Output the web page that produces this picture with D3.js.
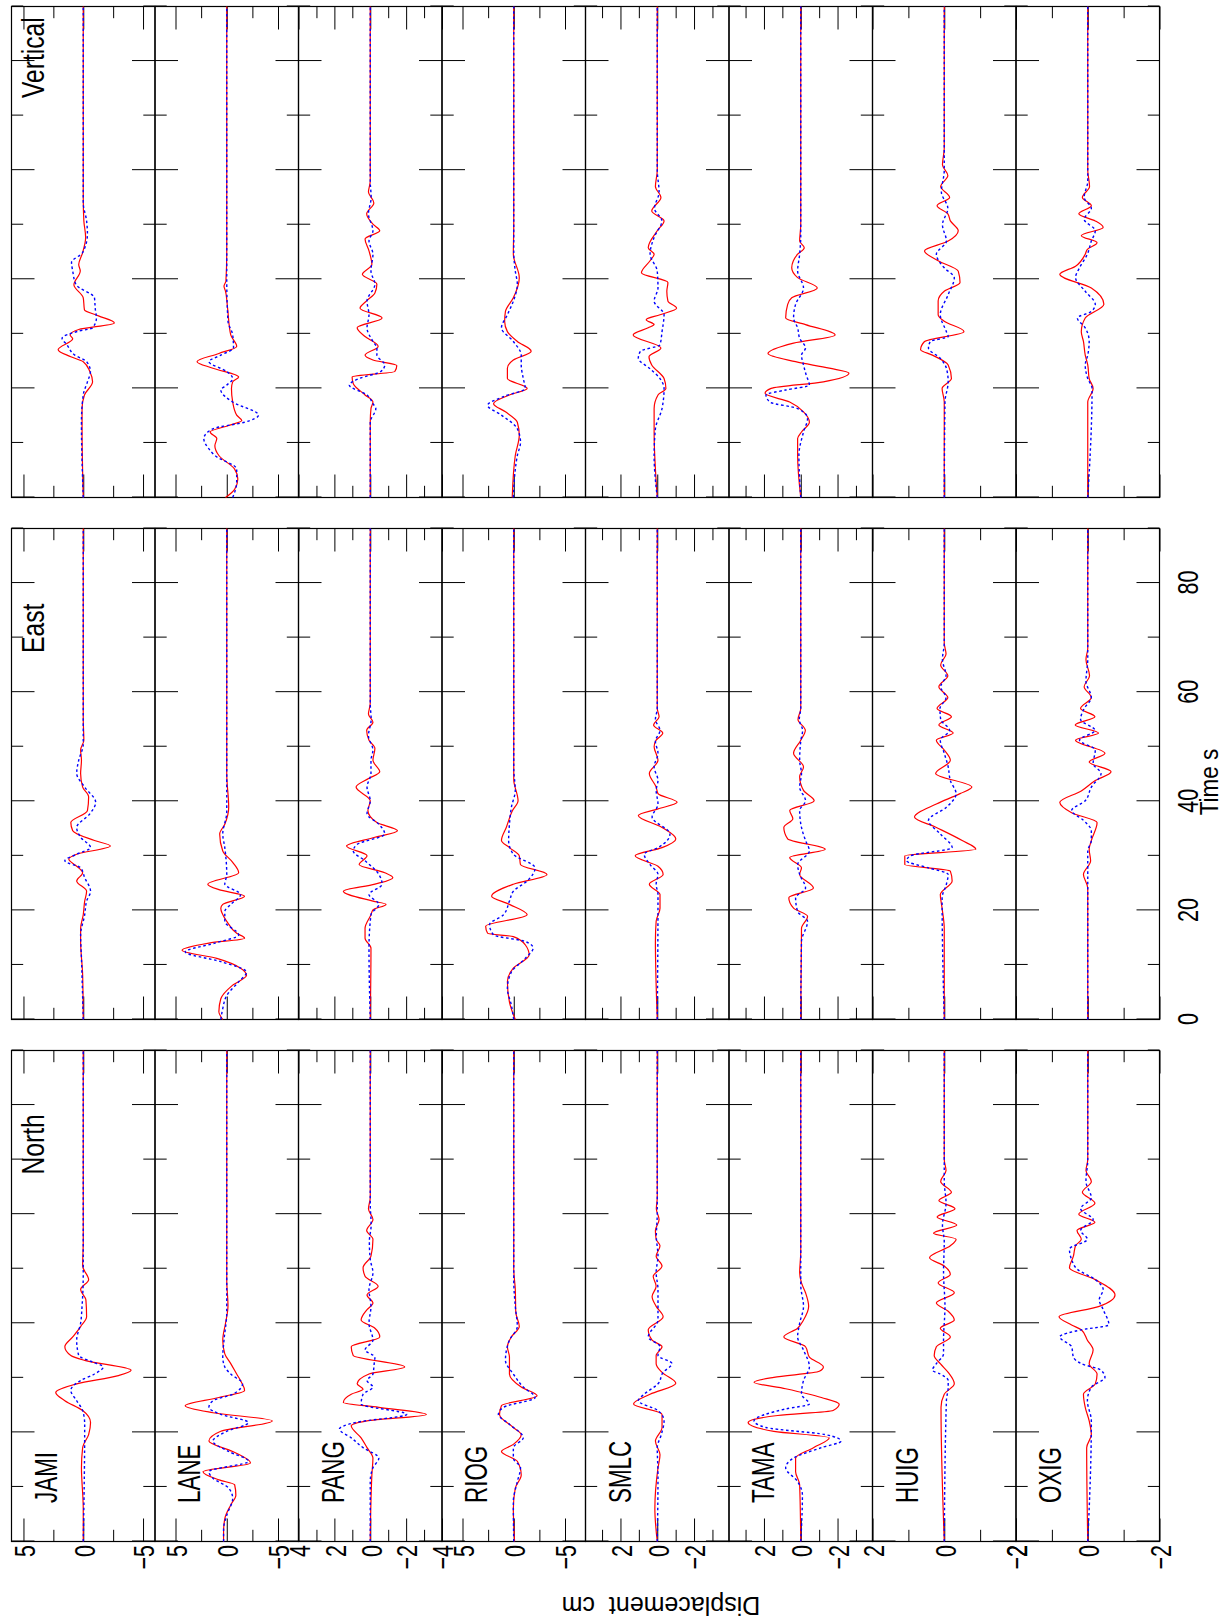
<!DOCTYPE html>
<html><head><meta charset="utf-8">
<script src="https://cdn.jsdelivr.net/npm/d3@7/dist/d3.min.js"></script>
<style>
body{margin:0;background:#fff}
svg{display:block}
text{font-family:"Liberation Sans",Arial,sans-serif;fill:#000}
</style>
</head><body>
<svg id="chart" width="1223" height="1620"></svg>
<script>
// ---------- categories / tick labels ----------
const stations = ["JAMI","LANE","PANG","RIOG","SMLC","TAMA","HUIG","OXIG"];
const components = ["North","East","Vertical"];
const ampRange = [6, 7, 4, 7, 3.9, 3.9, 2, 2];
const ampMajor = [[-5,0,5],[-5,0,5],[-4,-2,0,2,4],[-5,0,5],[-2,0,2],[-2,0,2],[-2,0,2],[-2,0,2]];
const ampMinor = [[-2.5,2.5],[-2.5,2.5],[-3,-1,1,3],[-2.5,2.5],[-3,-1,1,3],[-3,-1,1,3],[-1,1],[-1,1]];
const timeDomain = [0, 90];
const timeMajor = [0, 20, 40, 60, 80];
const timeMinor = [10, 30, 50, 70, 90];
const yLabel = "Displacement  cm";
const xLabel = "Time s";

// ---------- series: [time s, displacement cm] ----------
const northSolid = {
  JAMI:[[0,0],[6,0],[13.5,0.15],[17.2,0.05],[19.6,-0.45],[21.8,-0.61],[24,0.05],[25.8,1.54],[27.3,2.3],[28.9,0.55],[30.4,-2.93],[31.4,-4.0],[33.2,-0.12],[34.1,1.04],[35.7,1.54],[37.5,0.88],[39.4,0.22],[41.2,-0.28],[44.3,-0.22],[46.2,0.22],[48,-0.45],[50.5,0.05],[55,0],[90,0]],
  LANE:[[0,0.31],[1.7,0.31],[4.2,0.19],[6.7,-0.39],[8.5,-0.89],[10.4,-0.77],[11.3,0.77],[12.8,2.32],[14.4,-2.32],[16.5,-0.58],[18.4,1.74],[20.2,0.58],[22.1,-4.44],[23.6,1.35],[24.9,4.05],[26.4,0.77],[27.7,-1.74],[29.2,-1.43],[30.7,-0.97],[32.6,-0.39],[34.4,0.19],[36.9,0.39],[40,0.12],[43.1,-0.12],[48,0],[90,0]],
  PANG:[[0,0],[12.2,-0.09],[15.3,-0.15],[17.2,0.18],[19,0.51],[21.2,1.06],[22.1,0.18],[23.3,-3.13],[24.6,-0.48],[25.5,1.5],[27,1.06],[27.9,0.4],[28.9,0.73],[30.7,0.07],[32,-1.92],[34.1,0.95],[35.7,1.06],[37.5,-0.53],[39.1,-0.26],[40.6,0.51],[42.5,0.18],[43.7,-0.15],[45.2,0.18],[46.8,-0.44],[48.6,0.29],[50.2,0.4],[52.3,-0.04],[55.4,-0.15],[57,0.2],[59,-0.15],[61,0.1],[63,0],[90,0]],
  RIOG:[[0,-0.08],[6,0.04],[9.8,-0.15],[12.2,-0.73],[14.7,-0.35],[16.5,1.2],[17.8,0.04],[19.6,-0.73],[20.9,0.04],[23.3,1.39],[24.9,1.2],[26.7,-2.28],[28.3,-0.73],[30.7,0.42],[33.8,0.42],[35.7,0.62],[37.5,0.23],[39.4,-0.54],[42,-0.2],[46.2,-0.15],[50,0],[90,0]],
  SMLC:[[0,0],[6,0.13],[13.5,-0.04],[15.9,-0.15],[18.4,0.1],[20.9,-0.26],[23.3,-0.26],[25.2,1.29],[27,0.39],[29,-1.01],[31,-0.26],[32.6,0.06],[34.1,0.06],[35.7,-0.26],[36.9,0.28],[38.8,0.49],[41.2,-0.32],[43.1,0.06],[44.9,0.28],[46.8,0.06],[48.6,0.22],[50.5,-0.26],[52.3,0.06],[54.2,-0.15],[55.4,0.06],[57,0.1],[59,-0.1],[61,0.05],[63,0],[90,0]],
  TAMA:[[0,0],[10.4,0.06],[12.8,0.28],[15.3,0.28],[17.2,-0.69],[19,-1.55],[20.2,1.46],[21.8,2.86],[23.1,1.25],[24,-1.76],[25.2,-2.09],[26.4,-1.12],[28,0.82],[29.2,2.54],[30.1,1.46],[31.2,-1.01],[32,-1.23],[33.8,-0.47],[35.7,-0.26],[37.5,0.92],[39.1,0.17],[40.6,-0.15],[43.1,-0.43],[45.6,-0.26],[47.4,-0.04],[49.3,0.06],[53,0],[90,0]],
  HUIG:[[0,0],[24.6,0.09],[27,0],[28.9,-0.28],[31,-0.11],[32.6,0.11],[34.1,0.28],[35.7,0.22],[37.5,-0.17],[39.1,0.11],[40.6,-0.28],[42.2,-0.11],[43.7,0.22],[45.6,-0.28],[47.4,0.17],[49,-0.17],[50.5,0],[52,0.41],[54.2,-0.17],[55.4,-0.33],[56.5,0.3],[58,-0.35],[59.5,0.2],[61,-0.3],[62.5,0.15],[64,-0.2],[66,0.1],[68,-0.05],[70,0],[90,0]],
  OXIG:[[0,0],[17.2,0.03],[19.6,-0.1],[22.1,-0.04],[24.6,0.07],[27,0.12],[28.9,-0.21],[30.7,-0.26],[32.6,-0.04],[35.1,-0.15],[36.9,0.01],[38.8,0.18],[39.7,0.45],[41.2,0.8],[43.1,-0.32],[45.2,-0.76],[48,-0.21],[50.2,0.51],[52.3,0.4],[54.2,0.34],[55.4,0.18],[57,0.3],[58.5,-0.2],[60,0.25],[62,-0.2],[64,0.15],[66,-0.1],[68,0.05],[70,0],[90,0]]
};
const northDotted = {
  JAMI:[[0,0],[21.5,-0.12],[24,0.05],[25.8,0.55],[27.7,1.04],[29.5,0.22],[30.7,-0.94],[32,-1.67],[32.9,-0.78],[34.1,0.38],[36.9,0.55],[40,0.22],[43.1,0.1],[49.3,0],[90,0]],
  LANE:[[0,0.31],[2.3,0.31],[4.8,0],[7.9,-0.58],[9.8,-0.19],[11.6,1.35],[12.8,1.74],[14.7,-2.12],[16.5,-0.19],[18.4,1.35],[20.2,0],[21.8,-2.12],[23.3,0.58],[24.6,1.74],[25.8,1.35],[27,-0.58],[28.9,-1.54],[30.7,-0.39],[32,0.19],[33.8,0.39],[36.9,0.27],[42,0],[90,0]],
  PANG:[[0,0],[11,0],[13.5,-0.15],[15.3,-0.48],[17.2,0.4],[19,1.06],[20.6,1.72],[21.8,0.84],[23.3,-2.03],[25.2,0.51],[27,0.4],[28.3,-0.15],[29.5,0.18],[30.7,-0.15],[32.6,-0.22],[33.8,-0.26],[35.1,0.29],[36.9,-0.15],[40,0.07],[43.1,-0.04],[46.2,0.07],[49.3,-0.15],[51.7,0],[55,0.05],[58,-0.05],[62,0],[90,0]],
  RIOG:[[0,0],[7.3,0.04],[11,-0.35],[13.5,-0.66],[15.3,0.04],[17.2,0.04],[19,-0.93],[21.5,0.42],[23.3,1.5],[24.6,1.0],[26.4,-2.08],[28.3,-0.93],[30.7,0.04],[33.2,0.81],[36.9,0.42],[39.4,-0.35],[43.1,-0.15],[48,0],[90,0]],
  SMLC:[[0,0],[12.2,-0.04],[17.2,0],[19.6,-0.22],[22.1,-0.37],[24,-0.04],[25.8,1.03],[27,0.71],[28.9,-0.04],[31,-0.32],[32.6,-0.8],[34.1,-0.04],[35.7,-0.15],[37.5,0.49],[40.6,-0.04],[46.2,-0.04],[49.3,0.06],[52.3,-0.04],[56,0.05],[60,0],[90,0]],
  TAMA:[[0,0],[8.5,-0.09],[11,0.17],[13.5,0.82],[15.3,0.39],[17.2,-1.12],[18.4,-2.19],[19.6,-1.33],[20.9,1.89],[22.1,2.54],[24.3,0.82],[25.2,-0.47],[27,-0.04],[29.5,-0.15],[32,-0.47],[35.1,-0.15],[37.5,0.17],[40,0.06],[43.1,-0.15],[47,0],[90,0]],
  HUIG:[[0,0],[25.8,-0.06],[28.3,-0.11],[29.5,-0.11],[30.7,0.11],[31.4,0.33],[32.6,0.22],[34.4,0.02],[36.9,0.02],[43.1,-0.02],[49.3,0.02],[55,0],[58,0.05],[62,-0.05],[66,0],[90,0]],
  OXIG:[[0,0],[22.1,-0.1],[25.8,0.01],[28.3,-0.1],[30.1,-0.48],[31.4,-0.37],[32.6,0.18],[33.8,0.4],[35.7,0.45],[37.5,0.78],[38.8,0.18],[39.7,-0.59],[42.5,-0.43],[44.3,-0.32],[46.2,-0.43],[48,-0.21],[49.9,0.29],[51.7,0.45],[53.6,0.51],[55.4,0.01],[57,0.2],[59,-0.15],[61,0.2],[63,-0.1],[66,0.05],[70,0],[90,0]]
};
const eastSolid = {
  JAMI:[[0,0],[8.1,0.05],[14.3,0.22],[16.7,0.22],[19.2,0],[21.7,-0.12],[23.5,-0.28],[25.4,0.55],[26.9,0.05],[27.8,0.38],[29.4,1.21],[30.3,0.55],[31.8,-2.27],[32.8,-0.94],[34.6,0.88],[36.1,1.04],[38.3,-0.35],[40.8,-0.45],[42.6,0.05],[45.1,0.22],[47.5,0.15],[49.4,0.22],[51.2,-0.05],[55,0],[90,0]],
  LANE:[[0,0.39],[1.4,0.77],[3.8,0.58],[6.3,-0.58],[8.1,-1.93],[9.4,-1.35],[11.2,0.97],[12.7,4.36],[14,1.74],[14.9,-1.74],[15.8,-0.97],[18,0],[20.4,0.58],[21.1,0.39],[22.6,-1.74],[23.8,0.77],[24.8,1.85],[26.9,-1.16],[28.8,-0.58],[30.9,0.39],[34,0.69],[35.8,0.19],[38.9,-0.19],[45,0],[90,0]],
  PANG:[[0,0],[13.1,-0.04],[14.9,0.29],[16.7,0.29],[19.2,-0.04],[20.1,-0.15],[21.1,-0.88],[21.7,-0.15],[23.5,1.5],[24.8,-0.26],[26,-1.26],[26.9,-0.81],[28.4,0.62],[30,0.18],[31.8,1.32],[33.4,-0.26],[34.6,-1.52],[36.1,-0.37],[38.3,0.13],[40.1,0],[42.6,0.79],[44.2,0.07],[45.4,-0.53],[47.5,-0.15],[49.7,-0.26],[51.2,0.07],[53,0.2],[54.5,-0.15],[56,0.1],[58,0],[90,0]],
  RIOG:[[0,-0.15],[3.2,0.42],[6.9,0.62],[9.4,0.04],[11.8,-1.5],[13.7,-1.12],[15.2,0.04],[15.8,2.55],[17.1,2.74],[19.2,-1.31],[21.1,0.42],[22.6,2.16],[24.8,0.04],[26.6,-3.24],[28.4,-0.66],[30,-0.54],[31.5,0.42],[32.8,1.2],[35.2,0.73],[38.3,0.12],[40.1,-0.42],[44,0],[90,0]],
  SMLC:[[0,0],[14.3,0.1],[18,0.06],[20.4,-0.15],[22.9,-0.15],[24.8,0.43],[26.6,-0.32],[28.1,-0.04],[30,1.2],[31.5,-0.26],[33.1,-1.01],[35.2,-0.26],[37.4,1.03],[38.6,-0.04],[39.8,-1.08],[41.4,-0.04],[42.6,0.06],[45.1,0.43],[47.5,-0.04],[50,0.17],[51.2,0.06],[52.5,-0.3],[54,0.2],[55.5,-0.1],[57,0],[90,0]],
  TAMA:[[0,0],[16.7,-0.04],[18.9,-0.37],[20.4,0.39],[22.3,0.65],[24.1,-0.69],[26.6,0.06],[27.8,-0.04],[29.7,0.6],[31.2,-1.33],[33.1,0.71],[35.2,0.92],[36.8,0.43],[38.3,0.6],[40.1,-0.73],[42,-0.15],[44.5,0.06],[46.3,-0.15],[48.8,0.39],[51.2,0],[53,-0.25],[55,0.15],[57,0],[90,0]],
  HUIG:[[0,0],[16.7,0],[20.4,0.06],[22.9,0.11],[25.4,-0.22],[27.2,-0.17],[28.4,1.1],[30,1.1],[31.2,-0.88],[32.8,-0.5],[35.2,0.22],[37.1,0.83],[39.5,0.22],[41.4,-0.44],[42.6,-0.77],[45.1,0.24],[47.5,-0.17],[49.4,0],[51.2,0.22],[52.5,-0.25],[54,0.15],[55.5,-0.2],[57,0.2],[59,-0.1],[61,0.15],[63,-0.1],[65,0.1],[67,-0.05],[69,0],[90,0]],
  OXIG:[[0,0],[21.7,0],[24.1,0],[26.6,0.12],[29.1,-0.08],[31.2,-0.04],[32.8,-0.1],[36.1,-0.26],[37.9,0.45],[39.8,0.78],[41.9,0.18],[43.8,-0.21],[45.4,-0.65],[47.2,-0.04],[48.8,-0.48],[51.2,0.34],[52.5,-0.3],[54,0.35],[55.5,-0.2],[57,0.2],[59,-0.1],[61,0.1],[63,-0.05],[66,0.05],[68,0],[90,0]]
};
const eastDotted = {
  JAMI:[[0,0],[11.2,0.15],[15.5,0.22],[19.2,-0.12],[21.7,-0.28],[23.5,-0.61],[26,-0.12],[27.8,0.22],[29.1,1.54],[30.3,0.55],[31.5,-0.61],[33.4,0.22],[35.2,0.55],[37.7,-0.55],[39.8,-1.04],[42.6,-0.12],[45.1,0.55],[47.5,0.38],[50.5,0],[90,0]],
  LANE:[[0,0.58],[2,0.39],[4.4,0],[6.9,-1.16],[8.7,-1.93],[10.6,0.58],[12.4,4.05],[14,1.16],[15.5,-1.16],[18,0.19],[19.8,0.19],[21.1,-0.39],[22.9,-1.35],[24.8,0.19],[26.6,0],[31.5,0.19],[34,0.39],[38,0],[90,0]],
  PANG:[[0,0],[13.1,0.07],[19.2,-0.04],[21.1,-0.48],[22.9,0.07],[24.8,-0.66],[26.6,-0.48],[29.1,0.29],[30.9,0.95],[32.1,0.73],[34,-0.81],[35.8,-0.48],[37.7,0.18],[40.1,0],[42.6,0.18],[45.1,-0.04],[47.5,-0.04],[49.4,-0.15],[52,0.1],[55,-0.05],[58,0],[90,0]],
  RIOG:[[0,0],[2.6,0.23],[5.7,0.62],[8.7,0.23],[11.2,-1.12],[13.1,-1.89],[14.3,-1.12],[15.5,1.97],[17.4,2.36],[19.2,1.0],[21.7,0.42],[23.5,0.04],[25.4,-1.31],[27.8,-2.08],[30.3,0.04],[32.8,0.5],[35.8,0.42],[38.9,0.23],[42,-0.15],[46,0],[90,0]],
  SMLC:[[0,0],[22.9,-0.04],[24.8,0.06],[26.6,-0.04],[28.4,0.39],[30.3,0.71],[31.5,-0.04],[34,-0.69],[37.1,0.28],[39.5,-0.04],[42,0.06],[43.8,-0.04],[46.3,0.17],[48.8,-0.04],[51,0.1],[53,-0.15],[55,0.1],[57,0],[90,0]],
  TAMA:[[0,0],[14.3,-0.04],[18,-0.37],[19.8,0.17],[22.3,0.28],[24.1,-0.26],[26.6,0.06],[28.4,0.17],[30.9,-0.47],[32.8,-0.26],[35.2,-0.04],[38.3,0.06],[40.1,-0.26],[42.6,0.06],[45.1,-0.04],[47.5,0.06],[51,0],[53,-0.1],[55,0.08],[57,0],[90,0]],
  HUIG:[[0,0],[22.3,0.06],[24.8,-0.06],[26.6,-0.11],[27.8,0.44],[29.1,1.05],[30,0.94],[31.5,-0.22],[34,0.11],[36.5,0.44],[38.9,-0.06],[41.4,-0.33],[43.8,-0.17],[46.3,-0.11],[48.8,0],[51.2,0.11],[53,-0.15],[55,0.1],[57,0.12],[59,-0.05],[61,0.1],[63,-0.05],[66,0.05],[69,0],[90,0]],
  OXIG:[[0,0],[26.6,0],[30.9,0],[32.8,-0.1],[34.6,-0.1],[36.5,0.12],[38.3,0.45],[40.1,0.07],[42.6,-0.1],[45.1,-0.37],[46.9,-0.15],[49.4,-0.21],[51.2,0.23],[53,-0.2],[55,0.2],[57,0.1],[59,-0.1],[62,0.05],[66,0],[90,0]]
};
const verticalSolid = {
  JAMI:[[0,0],[12.6,0.1],[16.3,0.1],[18.8,-0.1],[21.2,-0.78],[23.1,-0.55],[24.9,0],[25.8,1.04],[27.1,2.1],[29.1,0.88],[29.8,1.1],[30.8,0.38],[32,-2.6],[33.3,-1.27],[34.4,-0.1],[36.6,0],[39,0.78],[41.5,0.25],[42.7,0.38],[44.9,0.05],[47.7,-0.2],[50.7,-0.05],[55,0],[90,0]],
  LANE:[[0,0.12],[1.5,-0.77],[3.4,-1.08],[5.2,-0.77],[7.7,0.77],[9.5,1.16],[10.8,0.97],[12,1.62],[13.2,-0.19],[14.1,-1.47],[15.1,-0.97],[17.5,-0.58],[20,-0.46],[21.2,-0.58],[22.1,-1.16],[23.7,1.35],[24.9,2.9],[26.4,0.77],[27.7,-0.97],[29.8,-0.39],[34.7,-0.08],[37.8,0.12],[38.7,0.27],[39.7,0.08],[45,0],[90,0]],
  PANG:[[0,0],[13.8,0],[16.3,-0.04],[17.5,-0.15],[18.8,0.29],[20.9,0.95],[22.1,1.01],[23.1,-1.37],[24.2,-1.48],[25.2,-0.15],[26.1,0.29],[27.7,-0.44],[29.5,0.29],[31.1,0.73],[32.9,-0.66],[34.7,0.57],[36,0.22],[37.5,-0.26],[39.1,-0.37],[40.9,0.44],[42.7,-0.09],[45.2,0.07],[47.4,0.29],[48.9,-0.53],[50.1,-0.15],[52,0.2],[54,-0.2],[56,0.1],[58,0],[90,0]],
  RIOG:[[0,0.15],[7.7,-0.15],[11.4,-0.54],[13.8,-0.35],[15.7,0.81],[17.2,1.97],[18.8,0.42],[20,-1.31],[21.8,0.62],[23.7,0.62],[25.2,0.04],[26.8,-1.7],[28.6,-0.35],[30.4,0.62],[32.3,0.89],[34.1,0.81],[36.6,0.04],[40.3,-0.54],[44.6,0.04],[50,0],[90,0]],
  SMLC:[[0,0],[12,0.17],[16.3,0.17],[18.8,-0.04],[20,-0.47],[21.8,-0.37],[24.3,0.3],[25.8,0.45],[27.4,-0.2],[29.8,1.31],[31.1,0.49],[31.7,0.17],[32.6,0.6],[33.5,-0.15],[34.7,-1.05],[36,-0.58],[37.8,-0.52],[39.4,-0.58],[41.2,0.86],[43.4,0.39],[44.6,0.17],[45.8,0.49],[48.9,0],[50.7,-0.37],[52.5,0.3],[55,-0.2],[57,0.1],[60,0],[90,0]],
  TAMA:[[0,0],[7.7,0.17],[10.8,0.17],[12,-0.04],[13.8,-0.47],[15.7,-0.15],[17.5,0.6],[19.1,1.94],[20,1.61],[21.2,-1.23],[22.8,-2.62],[23.7,-1.55],[24.9,0.28],[26.4,1.78],[28.3,0.39],[29.8,-1.87],[31.7,-0.26],[32.9,0.82],[35.4,0.71],[36.6,0.49],[38.4,-0.9],[40.3,0.17],[42.1,0.49],[44.6,0.17],[45.8,-0.19],[47,0.06],[50,0],[90,0]],
  HUIG:[[0,0],[17.5,0],[20,0.06],[21.8,-0.2],[24.3,-0.11],[26.1,0.33],[27.1,0.66],[28.6,0.55],[30.4,-0.55],[32.3,0],[33.5,0.17],[36,0.17],[37.8,0],[39.4,-0.44],[41.5,-0.39],[43.4,0.17],[45.2,0.55],[47,-0.11],[48.9,-0.39],[50.7,-0.17],[52,-0.1],[53.5,0.2],[55,-0.15],[57,0.1],[59,-0.1],[61,0.05],[64,0],[90,0]],
  OXIG:[[0,0],[17.5,0],[20,-0.15],[21.8,-0.04],[24.3,0],[26.1,0.07],[28.6,0.12],[30.4,0.18],[32.9,0.07],[35.4,-0.45],[38.4,-0.1],[40.9,0.78],[42.4,0.34],[44.6,0.07],[45.5,0.01],[46.7,-0.26],[48,0.18],[49.5,-0.43],[50.7,-0.21],[52,0.25],[53.5,-0.1],[55,0.15],[57,-0.05],[60,0],[90,0]]
};
const verticalDotted = {
  JAMI:[[0,0],[13.8,0.15],[18.8,0],[21.2,-0.35],[23.1,-0.6],[24.9,-0.28],[26.1,0.7],[28,1.37],[29.2,1.77],[30.5,0.38],[31.1,-0.78],[32.9,-1.1],[34.7,-1.0],[36.6,-0.94],[39,0.6],[41.5,0.88],[43.1,0.98],[44.9,0.05],[48.3,-0.35],[50.7,-0.28],[54,0],[90,0]],
  LANE:[[0,-0.58],[2.8,-0.97],[5.2,-0.97],[7.7,1.16],[8.9,1.74],[10.8,2.24],[12.6,1.35],[13.8,-1.74],[15.1,-3.1],[17.5,-0.58],[19.7,0.58],[20.6,0],[21.8,-0.58],[23.1,0],[24.9,1.74],[26.1,0.58],[27.4,-0.66],[29.8,-0.58],[32.3,-0.12],[40,0],[90,0]],
  PANG:[[0,0],[13.8,0],[16.3,-0.31],[17.2,-0.15],[18.8,0.18],[20.6,1.17],[21.8,0.62],[23.1,-0.59],[24.3,-0.81],[26.1,-0.37],[27.4,-0.37],[28.6,-0.15],[31.1,0.18],[33.5,0.07],[36,0.18],[39.1,-0.26],[41.5,-0.04],[44.6,-0.15],[47,0.07],[48.9,-0.15],[52,0.1],[55,-0.05],[58,0],[90,0]],
  RIOG:[[0,0.04],[7.7,-0.35],[10.1,-0.66],[12.6,-0.35],[15.1,1.2],[16.9,2.55],[18.5,1.0],[20,-1.12],[21.8,-0.93],[24.3,-0.73],[26.1,-0.73],[28.6,0.04],[31.1,1.2],[33.5,0.62],[36,0.04],[39.1,-0.35],[41.5,-0.15],[45,0],[90,0]],
  SMLC:[[0,0],[7.7,0.17],[12.6,0.1],[16.3,-0.26],[20,-0.37],[21.8,-0.15],[23.7,0.43],[25.5,1.03],[26.8,0.92],[28,-0.15],[30.4,-0.26],[33.5,-0.37],[36,0.17],[38.4,-0.04],[41.5,0],[44.6,0.39],[47.7,0.17],[50.7,-0.25],[53,0.15],[56,-0.1],[60,0],[90,0]],
  TAMA:[[0,0],[7.7,0.1],[12,-0.15],[14.5,-0.37],[16.3,0.17],[17.5,1.68],[18.8,1.89],[19.7,0.82],[20.6,-0.47],[22.4,-0.3],[24.3,-0.15],[26.1,-0.04],[27.4,-0.26],[29.2,0.06],[31.1,0.17],[32.9,0.39],[35.4,0.28],[38.4,-0.15],[41.5,0.17],[44.6,0.06],[48,0],[90,0]],
  HUIG:[[0,0],[17.5,-0.02],[21.2,-0.11],[23.7,-0.06],[25.5,0.11],[27.4,0.44],[28.6,0.39],[29.5,-0.11],[30.4,-0.06],[33.5,0.11],[37.2,-0.11],[40.3,-0.28],[42.1,0],[44.6,0.22],[47,-0.06],[50,0.05],[53,-0.1],[56,0.08],[60,0],[90,0]],
  OXIG:[[0,0],[20,-0.12],[21.8,0],[24.3,0.07],[26.1,0],[28.6,-0.04],[31.1,0.07],[32.9,0.29],[34.1,-0.1],[35.4,-0.21],[37.8,0.07],[40.3,0.34],[42.1,0.23],[44.6,0.01],[47,-0.1],[48.9,-0.21],[51,0.1],[53,-0.1],[55,0.1],[58,0],[90,0]]
};

// ---------- layout (original landscape frame, rotated -90deg onto the page) ----------
const PAGE_H = 1620;
const colX = [78.5, 600.5, 1122.5];
const colW = 491;
const rowTop0 = 11.5, rowH = 143.5;
const MAJ = 23, MIN = 11.7;
const FONT = '"Liberation Sans", Arial, sans-serif';
const labelFmt = d3.format("~g");

const svg = d3.select("#chart");
const root = svg.append("g").attr("transform", `translate(0,${PAGE_H}) rotate(-90)`);

const solidSets = { North: northSolid, East: eastSolid, Vertical: verticalSolid };
const dottedSets = { North: northDotted, East: eastDotted, Vertical: verticalDotted };

function ticks(parent, axis, tx, ty) {
  parent.append("g")
    .attr("transform", `translate(${tx},${ty})`)
    .call(axis)
    .call(a => a.select(".domain").remove())
    .call(a => a.selectAll("text").remove())
    .call(a => a.selectAll("line").attr("stroke", "#000").attr("stroke-width", 1));
}

components.forEach((comp, c) => {
  const x = d3.scaleLinear().domain(timeDomain).range([colX[c], colX[c] + colW]);
  const cg = root.append("g").attr("class", "col-" + comp);

  stations.forEach((st, i) => {
    const top = rowTop0 + i * rowH;
    const bottom = top + rowH;
    const y = d3.scaleLinear().domain([-ampRange[i], ampRange[i]]).range([bottom, top]);
    const g = cg.append("g");

    // amplitude ticks on both column edges (inward)
    ticks(g, d3.axisLeft(y).tickValues(ampMajor[i]).tickSize(-MAJ), colX[c], 0);
    ticks(g, d3.axisLeft(y).tickValues(ampMinor[i]).tickSize(-MIN), colX[c], 0);
    ticks(g, d3.axisRight(y).tickValues(ampMajor[i]).tickSize(-MAJ), colX[c] + colW, 0);
    ticks(g, d3.axisRight(y).tickValues(ampMinor[i]).tickSize(-MIN), colX[c] + colW, 0);
    // time ticks on top and bottom of every row box (inward)
    ticks(g, d3.axisTop(x).tickValues(timeMajor).tickSize(-MAJ), 0, top);
    ticks(g, d3.axisTop(x).tickValues(timeMinor).tickSize(-MIN), 0, top);
    ticks(g, d3.axisBottom(x).tickValues(timeMajor).tickSize(-MAJ), 0, bottom);
    ticks(g, d3.axisBottom(x).tickValues(timeMinor).tickSize(-MIN), 0, bottom);

    g.append("rect")
      .attr("x", colX[c]).attr("y", top).attr("width", colW).attr("height", rowH)
      .attr("fill", "none").attr("stroke", "#000").attr("stroke-width", 1.2);

    const line = d3.line().x(d => x(d[0])).y(d => y(d[1])).curve(d3.curveMonotoneX);
    g.append("path").datum(solidSets[comp][st]).attr("d", line)
      .attr("fill", "none").attr("stroke", "#ff0000").attr("stroke-width", 1.2);
    g.append("path").datum(dottedSets[comp][st]).attr("d", line)
      .attr("fill", "none").attr("stroke", "#0000ff").attr("stroke-width", 1.4)
      .attr("stroke-dasharray", "2.6,2.6");

    // amplitude labels only left of North column
    if (c === 0) {
      g.append("g")
        .attr("transform", `translate(${colX[0]},0)`)
        .call(d3.axisLeft(y).tickValues(ampMajor[i]).tickSize(0).tickPadding(0).tickFormat(labelFmt))
        .call(a => a.select(".domain").remove())
        .call(a => a.attr("font-size", 30).attr("font-family", FONT))
        .call(a => a.selectAll("text")
          .attr("x", null).attr("dy", "0.36em")
          .attr("transform", "translate(-3.5,0) scale(0.72,1)"));
      // station name
      g.append("text")
        .attr("transform", `translate(117,${top + 45}) scale(0.7,1)`)
        .attr("font-size", 32).attr("font-family", FONT)
        .text(st);
    }

    // time labels under the last row of the East column
    if (c === 1 && i === stations.length - 1) {
      g.append("g")
        .attr("transform", `translate(0,${bottom})`)
        .call(d3.axisBottom(x).tickValues(timeMajor).tickSize(0).tickPadding(17.5).tickFormat(labelFmt))
        .call(a => a.select(".domain").remove())
        .call(a => a.attr("font-size", 30).attr("font-family", FONT))
        .call(a => a.selectAll("text").attr("transform", "scale(0.72,1)"));
    }
  });
});

// component titles
const titleX = [445.5, 967, 1522];
components.forEach((comp, c) => {
  root.append("text")
    .attr("transform", `translate(${titleX[c]},43.5) scale(0.77,1)`)
    .attr("font-size", 32).attr("font-family", FONT)
    .text(comp);
});

// axis titles
root.append("text")
  .attr("transform", "translate(23,661) rotate(-90)")
  .attr("text-anchor", "middle").attr("font-size", 25).attr("font-family", FONT)
  .style("white-space", "pre")
  .text(yLabel);
root.append("text")
  .attr("transform", "translate(838,1218) scale(0.9,1)")
  .attr("text-anchor", "middle").attr("font-size", 25).attr("font-family", FONT)
  .text(xLabel);
</script>
</body></html>
